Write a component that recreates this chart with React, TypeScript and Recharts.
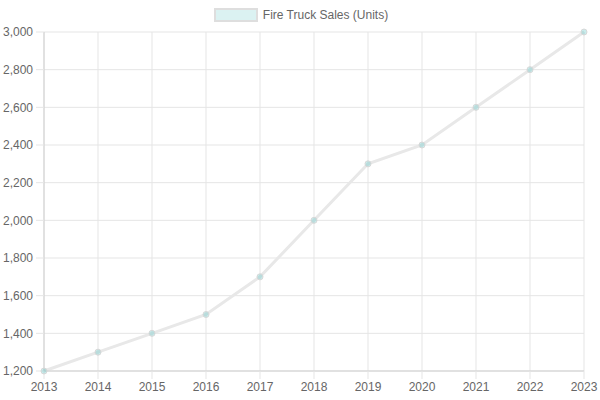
import React from 'react';
import { LineChart, Line, XAxis, YAxis, CartesianGrid } from 'recharts';

const years = ['2013', '2014', '2015', '2016', '2017', '2018', '2019', '2020', '2021', '2022', '2023'];
const sales = [1200, 1300, 1400, 1500, 1700, 2000, 2300, 2400, 2600, 2800, 3000];
const yTicks = [1200, 1400, 1600, 1800, 2000, 2200, 2400, 2600, 2800, 3000];
const seriesName = 'Fire Truck Sales (Units)';

const data = years.map((y, i) => ({ year: y, sales: sales[i] }));

const fmt = (v: number) => v.toLocaleString('en-US');

export default function App() {
  return (
    <div style={{ position: 'absolute', left: 0, top: 0, width: 600, height: 400, fontFamily: '"Liberation Sans", Arial, sans-serif' }}>
      <div style={{ position: 'absolute', top: 8, left: 1, width: 600, display: 'flex', justifyContent: 'center', alignItems: 'center', fontSize: 12, color: '#666' }}>
        <span style={{ display: 'inline-block', width: 40, height: 10, background: 'rgba(75,192,192,0.2)', border: '2px solid #dedede', marginRight: 5 }} />
        <span>{seriesName}</span>
      </div>
      <LineChart width={600} height={400} data={data} margin={{ top: 32, right: 16, bottom: 0, left: 0 }}>
        <CartesianGrid stroke="#e5e5e5" strokeWidth={1} />
        <XAxis
          dataKey="year"
          height={29}
          tickSize={8}
          tickMargin={3}
          tick={{ fill: '#666', fontSize: 12 }}
          stroke="#e5e5e5"
          tickLine={{ stroke: '#e5e5e5' }}
          axisLine={{ stroke: '#d0d0d0' }}
          interval={0}
        />
        <YAxis
          width={44}
          domain={[1200, 3000]}
          ticks={yTicks}
          tickFormatter={fmt}
          tickSize={8}
          tickMargin={3}
          tick={{ fill: '#666', fontSize: 12 }}
          tickLine={{ stroke: '#e5e5e5' }}
          axisLine={{ stroke: '#d0d0d0' }}
          interval={0}
        />
        <Line
          type="linear"
          dataKey="sales"
          stroke="#e8e8e8"
          strokeWidth={3}
          dot={{ r: 3, fill: 'rgba(75,192,192,0.3)', stroke: '#d8d8d8', strokeWidth: 1 }}
          isAnimationActive={false}
        />
      </LineChart>
    </div>
  );
}
